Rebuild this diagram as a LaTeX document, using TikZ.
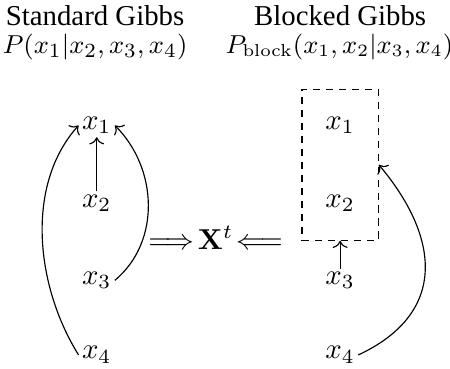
\documentclass[tikz,border=0pt]{standalone}
\usepackage{amsmath}
\usepackage[no-math]{fontspec}
\setmainfont{Liberation Serif}
\usetikzlibrary{arrows.meta, positioning}

\begin{document}
\begin{tikzpicture}[
    var/.style={inner sep=1pt},
    title/.style={font=\fontsize{10pt}{12pt}\selectfont},
    dist/.style={font=\fontsize{9.5pt}{11pt}\selectfont},
    arrow/.style={->},
    blockbox/.style={draw, dash pattern=on 2.5pt off 2pt, minimum width=0.93cm, minimum height=1.84cm}
]

% Frame
\useasboundingbox (0,0) rectangle (5.49,-4.49);

% Titles
\node[title] (stitle) at (1.16,-0.19) {Standard Gibbs};
\node[title] (btitle) at (4.15,-0.19) {Blocked Gibbs};
\node[dist] (sdist) at (1.16,-0.57) {$P(x_1|x_2,x_3,x_4)$};
\node[dist, font=\fontsize{8.8pt}{11pt}\selectfont] (bdist) at (4.14,-0.57) {$P_{\mathrm{block}}(x_1,x_2|x_3,x_4)$};

% ============ STANDARD GIBBS ============
\node[var] (sx1) at (1.18,-1.53) {$x_1$};
\node[var] (sx2) at (1.18,-2.48) {$x_2$};
\node[var] (sx3) at (1.18,-3.42) {$x_3$};
\node[var] (sx4) at (1.18,-4.33) {$x_4$};

\draw[arrow] (sx2) -- (sx1);
\draw[arrow] (sx3.east) to[out=40, in=-45] (sx1.east);
\draw[arrow] (sx4.west) to[out=122, in=228, looseness=0.9] (sx1.west);

% ============ SHARED STATE ============
\node (xt) at (2.63,-2.90) {$\Longrightarrow\!\mathbf{X}^t\!\Longleftarrow$};

% ============ BLOCKED GIBBS ============
\node[blockbox] (blk) at (4.15,-2.01) {};
\node[var] (bx1) at (4.15,-1.53) {$x_1$};
\node[var] (bx2) at (4.15,-2.48) {$x_2$};
\node[var] (bx3) at (4.15,-3.42) {$x_3$};
\node[var] (bx4) at (4.15,-4.33) {$x_4$};

\draw[arrow] (bx3) -- (blk.south);
\draw[arrow] (bx4.east) to[out=25, in=-50, looseness=1.3] (blk.east);

\end{tikzpicture}
\end{document}
